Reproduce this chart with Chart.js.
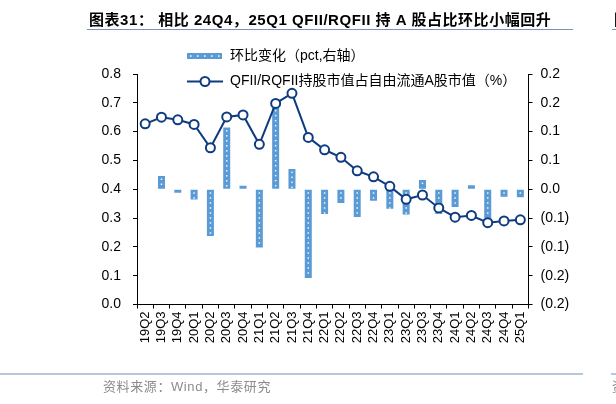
<!DOCTYPE html>
<html>
<head>
<meta charset="utf-8">
<script src="https://cdn.jsdelivr.net/npm/chart.js@4"></script>
<style>
  body { margin: 0; background: #fff; }
  #wrap { position: relative; width: 616px; height: 404px; overflow: hidden;
          font-family: Arial, "Liberation Sans", "Noto Sans CJK SC", sans-serif; }
  #chart { position: absolute; left: 0; top: 0; }
  .title { position: absolute; left: 89px; top: 8px; font-size: 15px; font-weight: bold;
           color: #000; white-space: nowrap; letter-spacing: 0.55px; }
  .rule { position: absolute; height: 0; }
  .source { position: absolute; left: 103px; top: 376px; font-size: 13px; color: #8c8c8c;
            white-space: nowrap; letter-spacing: 0.6px; }
</style>
</head>
<body>
<div id="wrap">
  <canvas id="chart" width="616" height="404"></canvas>
  <div class="title">图表31：&nbsp;相比 24Q4，25Q1 QFII/RQFII 持 A 股占比环比小幅回升</div>
  <div class="title" style="left:614px">图</div>
  <div class="rule" style="left:87px; width:486px; top:29px; border-top:1.5px solid #7d93b5"></div>
  <div class="rule" style="left:612px; width:10px; top:29px; border-top:1.5px solid #7d93b5"></div>
  <div class="rule" style="left:0; width:583px; top:373px; border-top:2px solid #b7c6da"></div>
  <div class="rule" style="left:611px; width:10px; top:373px; border-top:2px solid #b7c6da"></div>
  <div class="source">资料来源：Wind，华泰研究</div>
  <div class="source" style="left:612px">资</div>
</div>
<script>
const ctx = document.getElementById('chart').getContext('2d');

const quarters = ['19Q2', '19Q3', '19Q4', '20Q1', '20Q2', '20Q3', '20Q4', '21Q1', '21Q2', '21Q3', '21Q4', '22Q1',
                  '22Q2', '22Q3', '22Q4', '23Q1', '23Q2', '23Q3', '23Q4', '24Q1', '24Q2', '24Q3', '24Q4', '25Q1'];
// 环比变化 (pct, 右轴)
const qoqChange = [null, 0.023, -0.006, -0.018, -0.081, 0.107, 0.006, -0.101, 0.142, 0.035, -0.154, -0.043,
                   -0.024, -0.048, -0.020, -0.034, -0.044, 0.016, -0.043, -0.031, 0.007, -0.050, -0.013, -0.014];
// 持股市值占自由流通A股市值 (%)
const holdingShare = [0.627, 0.650, 0.641, 0.625, 0.544, 0.651, 0.658, 0.556, 0.698, 0.733, 0.580, 0.537,
                      0.511, 0.464, 0.443, 0.410, 0.365, 0.380, 0.335, 0.303, 0.309, 0.284, 0.290, 0.294];
const leftTicks = [0, 0.8, 0.1];
const rightTicks = [-0.2, 0.2, 0.05];

const barName = '环比变化（pct,右轴）';
const lineName = 'QFII/RQFII持股市值占自由流通A股市值（%）';
const barColor = '#5b9bd5';
const lineColor = '#0f3c80';
const font = 'Arial, "Liberation Sans", "Noto Sans CJK SC", sans-serif';

function rightLabel(v) {
  const r = (Math.round(Math.abs(v) * 10 + 1e-6) / 10).toFixed(1);
  return v < -1e-9 ? '(' + r + ')' : r;
}

// 柱子上的白色点
const barDots = {
  id: 'barDots',
  afterDatasetDraw(chart, args) {
    if (args.index !== 0) return;
    const c = chart.ctx;
    c.save();
    c.fillStyle = 'rgba(255,255,255,0.9)';
    args.meta.data.forEach(bar => {
      if (bar.skip || isNaN(bar.y)) return;
      const top = Math.min(bar.y, bar.base);
      const bottom = Math.max(bar.y, bar.base);
      for (let y = top + 2.5; y < bottom - 1.5; y += 5) {
        c.fillRect(bar.x - 0.75, y, 1.5, 1.5);
      }
    });
    c.restore();
  }
};

// 图例
const legendBox = {
  id: 'legendBox',
  afterDraw(chart) {
    const c = chart.ctx;
    c.save();
    c.fillStyle = barColor;
    c.fillRect(187, 53, 35, 6);
    c.fillStyle = '#fff';
    for (let x = 190; x < 222; x += 7) c.fillRect(x, 55.3, 1.5, 1.5);

    c.strokeStyle = lineColor;
    c.lineWidth = 2;
    c.beginPath();
    c.moveTo(187, 81.5);
    c.lineTo(223, 81.5);
    c.stroke();
    c.beginPath();
    c.arc(205, 81.5, 4.5, 0, Math.PI * 2);
    c.fillStyle = '#fff';
    c.fill();
    c.stroke();

    c.fillStyle = '#000';
    c.font = '14px ' + font;
    c.textBaseline = 'middle';
    c.fillText(barName, 230, 56.5);
    c.fillText(lineName, 230, 81.5);
    c.restore();
  }
};

new Chart(ctx, {
  type: 'bar',
  data: {
    labels: quarters,
    datasets: [{
      label: barName,
      data: qoqChange,
      yAxisID: 'y1',
      backgroundColor: barColor,
      categoryPercentage: 1,
      barPercentage: 0.43,
      order: 1
    }, {
      type: 'line',
      label: lineName,
      data: holdingShare,
      yAxisID: 'y',
      borderColor: lineColor,
      borderWidth: 2,
      pointRadius: 4.5,
      pointBorderWidth: 2,
      pointBackgroundColor: '#fff',
      pointBorderColor: lineColor,
      tension: 0,
      order: 0
    }]
  },
  options: {
    responsive: false,
    animation: false,
    layout: { padding: { top: 74, left: 0, right: 0, bottom: 0 } },
    plugins: {
      legend: { display: false },
      tooltip: { enabled: false }
    },
    scales: {
      x: {
        offset: true,
        grid: { drawOnChartArea: false, drawTicks: true, tickLength: 4, color: '#000', offset: true },
        border: { color: '#000', width: 1 },
        ticks: { autoSkip: false, minRotation: 90, maxRotation: 90, padding: 3, color: '#000',
                 font: { family: font, size: 13 } },
        afterFit: s => { s.height = 99.5; }
      },
      y: {
        position: 'left',
        min: leftTicks[0],
        max: leftTicks[1],
        grid: { drawOnChartArea: false, drawTicks: true, tickLength: 4, color: '#000' },
        border: { color: '#000', width: 1 },
        ticks: { stepSize: leftTicks[2], padding: 12, color: '#000',
                 font: { family: font, size: 14 },
                 callback: v => v.toFixed(1) },
        afterFit: s => { s.width = 137; }
      },
      y1: {
        position: 'right',
        min: rightTicks[0],
        max: rightTicks[1],
        grid: { drawOnChartArea: false, drawTicks: true, tickLength: 4, color: '#000' },
        border: { color: '#000', width: 1 },
        ticks: { stepSize: rightTicks[2], padding: 8, color: '#000',
                 font: { family: font, size: 14 },
                 callback: v => rightLabel(v) },
        afterFit: s => { s.width = 87.5; }
      }
    }
  },
  plugins: [barDots, legendBox]
});
</script>
</body>
</html>
